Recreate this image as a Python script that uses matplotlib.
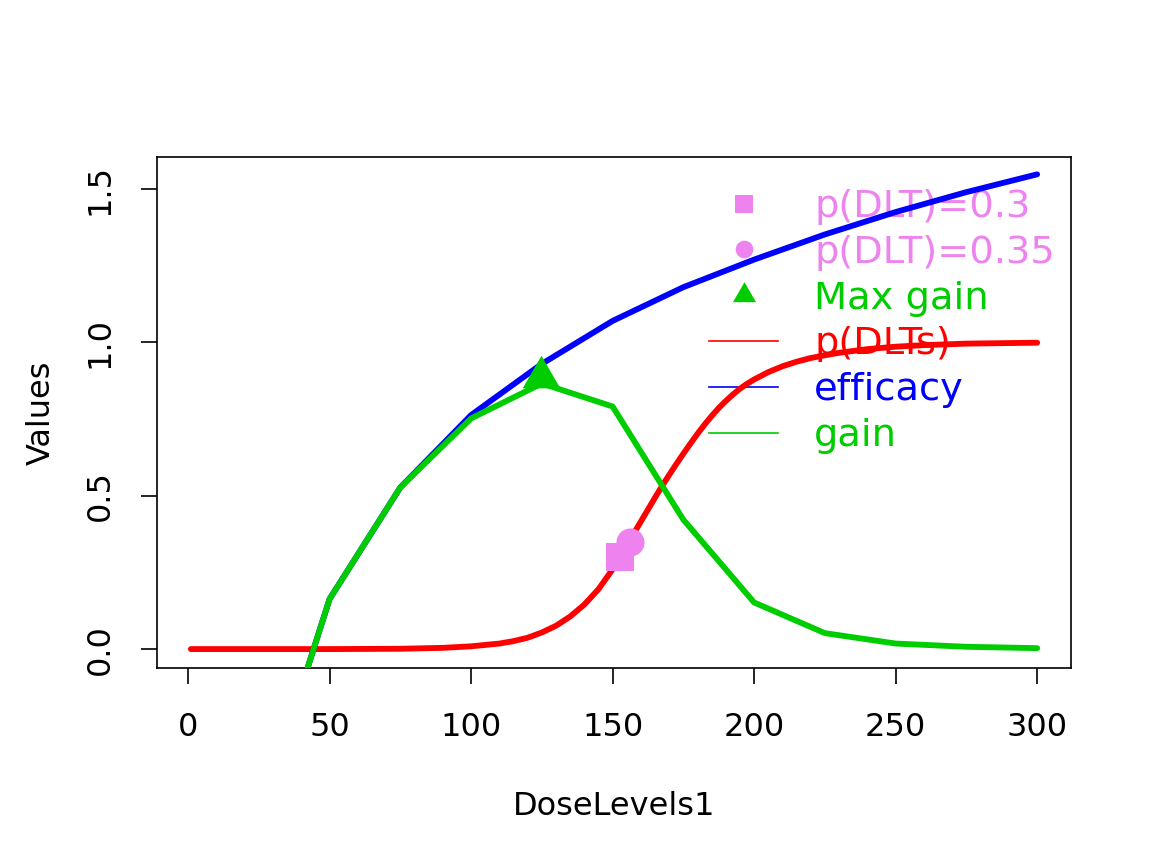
import matplotlib
matplotlib.use("Agg")
import matplotlib.pyplot as plt
from matplotlib.lines import Line2D
from matplotlib.markers import MarkerStyle
from matplotlib.path import Path

# ---- data ----
dose_grid = [1, 25, 50, 75, 100, 125, 150, 175, 200, 225, 250, 275, 300]
efficacy = [-2.9, -0.56, 0.163, 0.527, 0.763, 0.93, 1.07, 1.18, 1.27, 1.352, 1.425, 1.49, 1.548]
gain = [-2.9, -0.56, 0.163, 0.527, 0.752, 0.866, 0.791, 0.422, 0.152, 0.052, 0.018, 0.0075, 0.003]

dlt_doses = [1, 25, 50, 75, 90, 100, 110, 115, 120, 125, 130, 135, 140, 145, 150, 152.5,
             155, 157.5, 160, 162.5, 165, 167.5, 170, 172.5, 175, 177.5, 180, 182.5, 185,
             187.5, 190, 192.5, 195, 197.5, 200, 205, 210, 215, 220, 225, 230, 240, 250,
             260, 275, 300]
p_dlt = [0.0, 0.0, 0.0, 0.001, 0.004, 0.009, 0.018, 0.026, 0.037, 0.054, 0.076, 0.106,
         0.145, 0.195, 0.26, 0.298, 0.337, 0.377, 0.416, 0.455, 0.494, 0.532, 0.568,
         0.603, 0.637, 0.670, 0.702, 0.732, 0.760, 0.786, 0.809, 0.830, 0.849, 0.865,
         0.879, 0.903, 0.922, 0.937, 0.949, 0.958, 0.966, 0.978, 0.986, 0.991, 0.996,
         0.999]

td30_dose, td30_p = 152.7, 0.30
td35_dose, td35_p = 156.0, 0.35
maxgain_dose, maxgain_val = 124.7, 0.888

xticks = [0, 50, 100, 150, 200, 250, 300]
yticks = [0.0, 0.5, 1.0, 1.5]
ytick_labels = ["0.0", "0.5", "1.0", "1.5"]
legend_labels = ["p(DLT)=0.3", "p(DLT)=0.35", "Max gain", "p(DLTs)", "efficacy", "gain"]

VIOLET = "#EE82EE"
GREEN3 = "#00CD00"

plt.rcParams['font.family'] = ['DejaVu Sans']

W, H = 1152, 865
fig = plt.figure(figsize=(W / 100, H / 100), dpi=100)
L, R, T, B = 157, 1071, 157, 668
ax = fig.add_axes([L / W, 1 - B / H, (R - L) / W, (B - T) / H])

# R-style filled triangle (pch 17): apex 2/3 above centre
tri = MarkerStyle(Path([(0, 1.5551), (1.3468, -0.7776), (-1.3468, -0.7776), (0, 1.5551)],
                       [Path.MOVETO, Path.LINETO, Path.LINETO, Path.CLOSEPOLY]))

lw = 4.2
ax.plot(dlt_doses, p_dlt, color="red", lw=lw, solid_capstyle="round",
        solid_joinstyle="round", zorder=2)
ax.plot(dose_grid, efficacy, color="blue", lw=lw, solid_capstyle="round", zorder=3)
ax.plot(dose_grid, gain, color=GREEN3, lw=lw, solid_capstyle="round", zorder=4)
ax.plot([td30_dose], [td30_p], ls="none", marker="s", ms=20.4, color=VIOLET, mew=0, zorder=5)
ax.plot([td35_dose], [td35_p], ls="none", marker="o", ms=20.2, color=VIOLET, mew=0, zorder=6)
ax.plot([maxgain_dose], [maxgain_val], ls="none", marker=tri, ms=31.3, color=GREEN3, mew=0, zorder=7)

ax.set_xlim(-10.96, 311.96)
ax.set_ylim(-0.0617, 1.6045)
ax.set_xticks(xticks)
ax.set_yticks(yticks)
ax.set_yticklabels(ytick_labels)
fs = 23
ax.tick_params(axis="both", direction="out", length=11.5, width=1.2, labelsize=fs, color="black")
ax.tick_params(axis="x", pad=20.5)
ax.tick_params(axis="y", pad=18.3)
for lab in ax.get_yticklabels():
    lab.set_rotation(90)
    lab.set_va("center")
    lab.set_ha("right")
for s in ax.spines.values():
    s.set_linewidth(1.2)

ax.set_xlabel("DoseLevels1", fontsize=fs)
ax.set_ylabel("Values", fontsize=fs)
ax.xaxis.set_label_coords(0.5, (B - 807) / (B - T))
ax.xaxis.label.set_va("center")
ax.yaxis.set_label_coords((41 - L) / (R - L), 0.5)
ax.yaxis.label.set_va("center")

handles = [
    Line2D([], [], ls="none", marker="s", ms=12.7, color=VIOLET, mew=0),
    Line2D([], [], ls="none", marker="o", ms=12.7, color=VIOLET, mew=0),
    Line2D([], [], ls="none", marker=tri, ms=19.2, color=GREEN3, mew=0),
    Line2D([], [], color="red", lw=1.2),
    Line2D([], [], color="blue", lw=1.2),
    Line2D([], [], color=GREEN3, lw=1.2),
]
fs_leg = 27.6
em = fs_leg / 0.72
leg = ax.legend(handles, legend_labels, loc="upper left",
                bbox_to_anchor=(709 / W, 1 - 189 / H), bbox_transform=fig.transFigure,
                frameon=False, fontsize=fs_leg, handlelength=69 / em, handletextpad=36 / em,
                labelspacing=0.256, borderpad=0, borderaxespad=0)
for txt, c in zip(leg.get_texts(), [VIOLET, VIOLET, GREEN3, "red", "blue", GREEN3]):
    txt.set_color(c)
leg.set_zorder(1)

fig.savefig("out.png", dpi=100)
